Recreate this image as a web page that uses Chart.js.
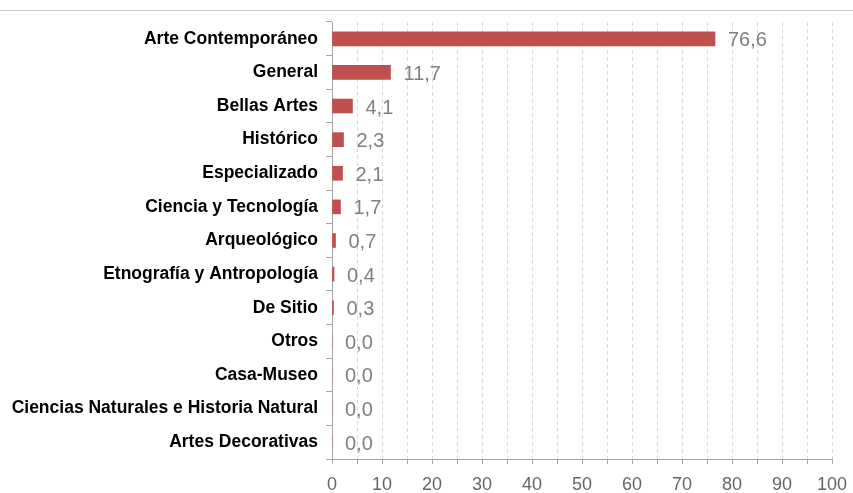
<!DOCTYPE html>
<html>
<head>
<meta charset="utf-8">
<script src="https://cdn.jsdelivr.net/npm/chart.js@4"></script>
<style>
  body { margin: 0; background: #fff; }
  #wrap { position: relative; width: 853px; height: 493px; }
  #topline { position: absolute; left: 0; top: 10px; width: 853px; height: 0; border-top: 1px solid #cccccc; }
</style>
</head>
<body>
<div id="wrap">
  <div id="topline"></div>
  <canvas id="myChart" width="853" height="493"></canvas>
</div>
<script>
const ctx = document.getElementById("myChart").getContext("2d");

const labels = [
    "Arte Contemporáneo",
    "General",
    "Bellas Artes",
    "Histórico",
    "Especializado",
    "Ciencia y Tecnología",
    "Arqueológico",
    "Etnografía y Antropología",
    "De Sitio",
    "Otros",
    "Casa-Museo",
    "Ciencias Naturales e Historia Natural",
    "Artes Decorativas",
];

const values = [76.6, 11.7, 4.1, 2.3, 2.1, 1.7, 0.7, 0.4, 0.3, 0.0, 0.0, 0.0, 0.0];

const xTicks = [0, 10, 20, 30, 40, 50, 60, 70, 80, 90, 100];

// draws the value next to each bar, with a decimal comma
const valueLabels = {
    id: 'valueLabels',
    afterDatasetsDraw(chart) {
        const c = chart.ctx;
        const meta = chart.getDatasetMeta(0);
        c.save();
        c.font = '20px "Liberation Sans", Arial, sans-serif';
        c.fillStyle = '#808080';
        c.textAlign = 'left';
        c.textBaseline = 'middle';
        meta.data.forEach((bar, i) => {
            c.fillText(values[i].toFixed(1).replace('.', ','), bar.x + 13, bar.y + 2);
        });
        c.restore();
    }
};

const data = {
    labels,
    datasets: [{
        data: values,
        backgroundColor: '#c0504d',
        borderWidth: 0,
        barThickness: 14,
    }],
};

const config = {
    type: 'bar',
    data: data,
    options: {
        indexAxis: 'y',
        responsive: false,
        animation: false,
        layout: {
            padding: { top: 22, right: 21, left: 0, bottom: 0 }
        },
        plugins: {
            legend: { display: false },
            tooltip: { enabled: false },
        },
        scales: {
            x: {
                min: 0,
                max: 100,
                border: { color: '#a6a6a6', width: 1, dash: [4, 3] },
                grid: {
                    color: '#d9d9d9',
                    tickColor: '#a6a6a6',
                    tickLength: 5,
                },
                ticks: {
                    stepSize: 5,
                    autoSkip: false,
                    maxRotation: 0,
                    padding: 10,
                    color: '#666666',
                    font: { family: '"Liberation Sans", Arial, sans-serif', size: 18 },
                    callback: (v) => xTicks.includes(v) ? String(v) : '',
                },
                afterFit(scale) {
                    scale.height = 34;
                    scale.paddingRight = 0;
                    scale.paddingLeft = 0;
                },
            },
            y: {
                border: { color: '#a6a6a6', width: 1 },
                grid: {
                    drawOnChartArea: false,
                    tickColor: '#a6a6a6',
                    tickLength: 6,
                },
                ticks: {
                    padding: 8,
                    color: '#000000',
                    autoSkip: false,
                    font: { family: '"Liberation Sans", Arial, sans-serif', size: 17.5, weight: 'bold' },
                },
                afterFit(scale) { scale.width = 332; },
            },
        },
    },
    plugins: [valueLabels],
};

const myChart = new Chart(ctx, config);
</script>
</body>
</html>
